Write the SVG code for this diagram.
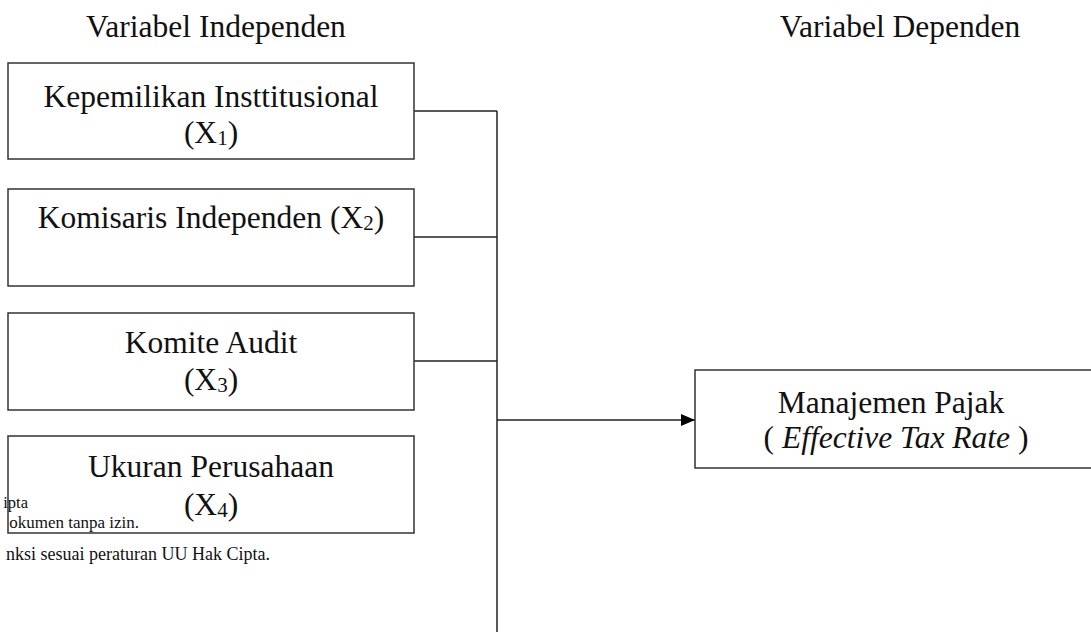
<svg xmlns="http://www.w3.org/2000/svg" width="1091" height="632" viewBox="0 0 1091 632">
<style>
.t{font-family:"Liberation Serif","Times New Roman",serif;font-size:31.5px;fill:#111;text-anchor:middle}
.s{font-family:"Liberation Serif","Times New Roman",serif;font-size:18px;fill:#111;text-anchor:end}
.s2{font-size:16.5px}
.s3{font-size:17px}
.b{fill:#fff;stroke:#333;stroke-width:1.5}
.c{fill:none;stroke:#222;stroke-width:1.5}
.sub{font-size:21px}
</style>
<defs>
<marker id="ah" markerWidth="14" markerHeight="12" refX="14" refY="6" orient="auto" markerUnits="userSpaceOnUse">
<path d="M0,0 L14,6 L0,12 Z" fill="#000"/>
</marker>
</defs>
<rect width="1091" height="632" fill="#fff"/>
<g id="headers">
<text class="t" x="216" y="37">Variabel Independen</text>
<text class="t" x="900" y="37">Variabel Dependen</text>
</g>
<g id="notes">
<text class="s s2" x="28" y="508">ipta</text>
<text class="s s3" x="139" y="528">okumen tanpa izin.</text>
<text class="s" x="270" y="560">nksi sesuai peraturan UU Hak Cipta.</text>
</g>
<g id="connectors">
<line class="c" x1="414" y1="111" x2="497" y2="111"/>
<line class="c" x1="414" y1="237" x2="497" y2="237"/>
<line class="c" x1="414" y1="361" x2="497" y2="361"/>
<line class="c" x1="497" y1="111" x2="497" y2="632"/>
<line class="c" x1="497" y1="420" x2="695" y2="420" marker-end="url(#ah)"/>
</g>
<g id="x1">
<rect class="b" x="8" y="63" width="406" height="96"/>
<text class="t" x="211" y="107">Kepemilikan Insttitusional</text>
<text class="t" x="211" y="143">(X<tspan class="sub" dy="2">1</tspan><tspan dy="-2">)</tspan></text>
</g>
<g id="x2">
<rect class="b" x="8" y="189" width="406" height="97"/>
<text class="t" x="211" y="228">Komisaris Independen (X<tspan class="sub" dy="2">2</tspan><tspan dy="-2">)</tspan></text>
</g>
<g id="x3">
<rect class="b" x="8" y="313" width="406" height="97"/>
<text class="t" x="211" y="353">Komite Audit</text>
<text class="t" x="211" y="390">(X<tspan class="sub" dy="2">3</tspan><tspan dy="-2">)</tspan></text>
</g>
<g id="x4">
<rect class="b" x="8" y="436" width="406" height="97" fill-opacity="0"/>
<text class="t" x="211" y="477">Ukuran Perusahaan</text>
<text class="t" x="211" y="515">(X<tspan class="sub" dy="2">4</tspan><tspan dy="-2">)</tspan></text>
</g>
<g id="y">
<rect class="b" x="695" y="370" width="420" height="98"/>
<text class="t" x="891" y="413">Manajemen Pajak</text>
<text class="t" x="896" y="448">( <tspan font-style="italic">Effective Tax Rate</tspan> )</text>
</g>
</svg>
